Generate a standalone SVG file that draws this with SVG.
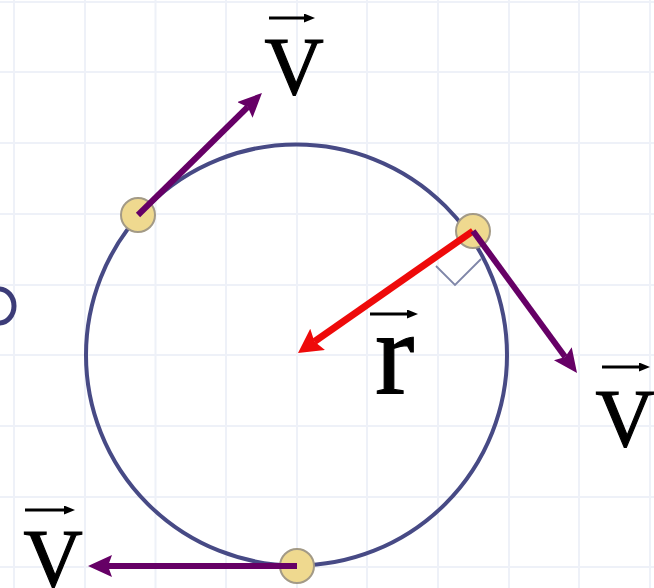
<svg xmlns="http://www.w3.org/2000/svg" width="654" height="588" viewBox="0 0 654 588">
  <style>
    .grid line { stroke: #eef1f8; stroke-width: 2; }
    .orbit { fill: none; stroke: #474a85; stroke-width: 4; }
    .dot { fill: #efd98f; stroke: #a39a86; stroke-width: 2; }
    .vel { stroke: #660066; stroke-width: 6; fill: none; marker-end: url(#headPurple); }
    .rad { stroke: #ee0a0a; stroke-width: 7; fill: none; marker-end: url(#headRed); }
    .vecbar { stroke: #000; stroke-width: 3; marker-end: url(#headSmall); }
    .sym { font-family: "Liberation Serif", "Times New Roman", serif; fill: #000; stroke: #000; stroke-width: 1.2; }
    .right { fill: none; stroke: #7f86a8; stroke-width: 1.8; }
  </style>
  <defs>
    <marker id="headPurple" markerUnits="userSpaceOnUse" markerWidth="26" markerHeight="24" refX="4" refY="11" orient="auto">
      <path d="M0,0 L24,11 L0,22 L4,11 z" fill="#660066"/>
    </marker>
    <marker id="headRed" markerUnits="userSpaceOnUse" markerWidth="28" markerHeight="28" refX="4" refY="13" orient="auto">
      <path d="M0,0 L24,13 L0,26 L4,13 z" fill="#ee0a0a"/>
    </marker>
    <marker id="headSmall" markerUnits="userSpaceOnUse" markerWidth="12" markerHeight="10" refX="2" refY="4.5" orient="auto">
      <path d="M0,0 L11,4.5 L0,9 z" fill="#000"/>
    </marker>
  </defs>
  <rect width="654" height="588" fill="#ffffff"/>
  <g class="grid">
    <line x1="14" y1="0" x2="14" y2="588"/>
    <line x1="85" y1="0" x2="85" y2="588"/>
    <line x1="155.5" y1="0" x2="155.5" y2="588"/>
    <line x1="226" y1="0" x2="226" y2="588"/>
    <line x1="297" y1="0" x2="297" y2="588"/>
    <line x1="367" y1="0" x2="367" y2="588"/>
    <line x1="438" y1="0" x2="438" y2="588"/>
    <line x1="509" y1="0" x2="509" y2="588"/>
    <line x1="579" y1="0" x2="579" y2="588"/>
    <line x1="650" y1="0" x2="650" y2="588"/>
    <line x1="0" y1="2" x2="654" y2="2"/>
    <line x1="0" y1="72" x2="654" y2="72"/>
    <line x1="0" y1="143" x2="654" y2="143"/>
    <line x1="0" y1="214" x2="654" y2="214"/>
    <line x1="0" y1="285" x2="654" y2="285"/>
    <line x1="0" y1="355" x2="654" y2="355"/>
    <line x1="0" y1="426" x2="654" y2="426"/>
    <line x1="0" y1="497" x2="654" y2="497"/>
    <line x1="0" y1="567" x2="654" y2="567"/>
  </g>
  <ellipse cx="-1" cy="306" rx="15" ry="17" fill="none" stroke="#3c3c78" stroke-width="5"/>
  <g id="orbit">
    <circle class="orbit" cx="296.5" cy="355" r="210.5"/>
  </g>
  <g id="right-angle">
    <polyline class="right" points="436,266 455,285 481,259"/>
  </g>
  <g id="particle-top-left">
    <circle class="dot" cx="138" cy="215" r="17"/>
  </g>
  <g id="particle-right">
    <circle class="dot" cx="473" cy="231" r="17"/>
  </g>
  <g id="particle-bottom">
    <circle class="dot" cx="297" cy="566" r="17"/>
  </g>
  <g id="connectors">
    <line class="rad" x1="473" y1="231" x2="314.4" y2="341.6"/>
    <line class="vel" x1="138" y1="215" x2="247.7" y2="107"/>
    <line class="vel" x1="473" y1="231" x2="565.2" y2="356.9"/>
    <line class="vel" x1="297" y1="566" x2="108" y2="566"/>
  </g>
  <g id="label-v-top">
    <line class="vecbar" x1="269" y1="18" x2="306" y2="18"/>
    <text class="sym" x="294" y="94" font-size="82" text-anchor="middle">V</text>
  </g>
  <g id="label-v-right">
    <line class="vecbar" x1="602" y1="367" x2="641" y2="367"/>
    <text class="sym" x="625" y="446" font-size="82" text-anchor="middle">V</text>
  </g>
  <g id="label-v-bottom">
    <line class="vecbar" x1="25" y1="510" x2="66" y2="510"/>
    <text class="sym" x="53" y="586" font-size="82" text-anchor="middle">V</text>
  </g>
  <g id="label-r">
    <line class="vecbar" x1="370" y1="314" x2="409" y2="314"/>
    <text class="sym" x="375" y="393" font-size="118">r</text>
  </g>
</svg>
